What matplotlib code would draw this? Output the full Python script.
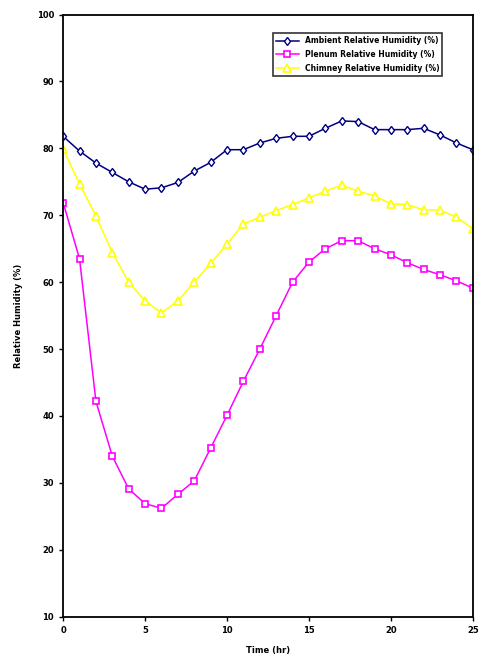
import matplotlib
matplotlib.use('Agg')
import matplotlib.pyplot as plt
import numpy as np

# Time (hr)
hours = list(range(26))

# Relative humidity readings (%)
ambient_rh = [81.8, 79.6, 77.8, 76.4, 75.0, 73.9, 74.1, 74.9, 76.6, 77.9, 79.8, 79.8, 80.8,
              81.5, 81.8, 81.8, 83.0, 84.1, 84.0, 82.8, 82.8, 82.8, 83.0, 82.0, 80.8, 79.8]
plenum_rh = [71.9, 63.5, 42.2, 34.0, 29.1, 26.9, 26.2, 28.3, 30.3, 35.2, 40.1, 45.2, 50.0,
             55.0, 60.0, 63.0, 65.0, 66.2, 66.2, 65.0, 64.1, 62.9, 61.9, 61.1, 60.2, 59.1]
chimney_rh = [79.9, 74.7, 69.9, 64.4, 60.0, 57.2, 55.4, 57.2, 60.0, 62.8, 65.7, 68.7, 69.7,
              70.7, 71.6, 72.6, 73.6, 74.5, 73.6, 72.9, 71.7, 71.6, 70.8, 70.8, 69.7, 68.0]

labels = ['Ambient Relative Humidity (%)',
          'Plenum Relative Humidity (%)',
          'Chimney Relative Humidity (%)']

fig = plt.figure(figsize=(4.82, 6.61), dpi=100)
ax = fig.add_axes([0.131, 0.067, 0.850, 0.911])

ax.plot(hours, ambient_rh, color='#000080', lw=1.1, marker='d', ms=4.5,
        mfc='white', mec='#000080', mew=1.0, label=labels[0])
ax.plot(hours, plenum_rh, color='#ff00ff', lw=1.1, marker='s', ms=4.5,
        mfc='white', mec='#ff00ff', mew=1.2, label=labels[1])
ax.plot(hours, chimney_rh, color='#ffff00', lw=1.1, marker='^', ms=5.5,
        mfc='white', mec='#ffff00', mew=1.2, label=labels[2])

ax.set_xlim(0, 25)
ax.set_ylim(10, 100)
ax.set_xticks(np.arange(0, 26, 5))
ax.set_yticks(np.arange(10, 101, 10))
ax.tick_params(direction='out', length=3, width=1, labelsize=6)
for lab in ax.get_xticklabels() + ax.get_yticklabels():
    lab.set_fontweight('bold')
for s in ax.spines.values():
    s.set_linewidth(1.3)

ax.set_xlabel('Time (hr)', fontsize=6, fontweight='bold', labelpad=8)
ax.set_ylabel('Relative Humidity (%)', fontsize=6, fontweight='bold', labelpad=10)

leg = ax.legend(loc='upper right', bbox_to_anchor=(0.935, 0.975), fontsize=5.5,
                frameon=True, fancybox=False, edgecolor='black', borderpad=0.4,
                handlelength=3, labelspacing=0.6)
leg.get_frame().set_linewidth(1.2)
for t in leg.get_texts():
    t.set_fontweight('bold')

fig.savefig('out.png', dpi=100)
